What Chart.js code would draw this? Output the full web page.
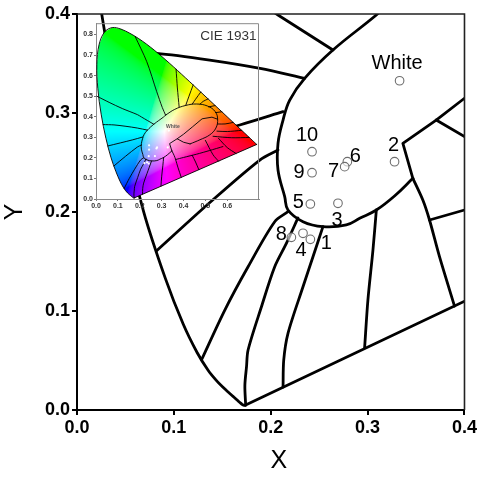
<!DOCTYPE html>
<html><head><meta charset="utf-8">
<script src="https://cdn.jsdelivr.net/npm/chart.js@4.4.1/dist/chart.umd.min.js"></script>
<style>
html,body{margin:0;padding:0;background:#fff;}
#wrap{position:relative;width:479px;height:477px;overflow:hidden;}
#main{position:absolute;left:0;top:0;width:479px;height:477px;}
#inset{position:absolute;left:80px;top:18px;width:185px;height:197px;}
</style></head><body>
<div id="wrap"><canvas id="main" width="479" height="477"></canvas><canvas id="inset" width="185" height="197"></canvas></div>
<script>
// ---------------- DATA ----------------
const mainTickLabels = ['0.0','0.1','0.2','0.3','0.4'];
const insetXTickLabels = ['0.0','0.1','0.2','0.3','0.4','0.5','0.6','0.7'];
const insetYTickLabels = ['0.0','0.1','0.2','0.3','0.4','0.5','0.6','0.7','0.8'];

const sampleLabels = ['1','2','3','4','5','6','7','8','9','10','White'];
const sampleX = [0.2409,0.3278,0.2694,0.2333,0.2409,0.2791,0.2763,0.2213,0.2426,0.2426,0.3330];
const sampleY = [0.1724,0.2508,0.2088,0.1785,0.2081,0.2508,0.2458,0.1744,0.2397,0.2609,0.3326];

// CIE 1931 spectral locus (380 nm -> 700 nm)
const locusX = [0.1741,0.1738,0.1733,0.1726,0.1714,0.1703,0.1689,0.1669,0.1644,0.1611,0.1566,0.1510,0.1440,0.1355,0.1241,0.1096,0.0913,0.0687,0.0454,0.0235,0.0082,0.0039,0.0139,0.0389,0.0743,0.1142,0.1547,0.1929,0.2296,0.2658,0.3016,0.3373,0.3731,0.4087,0.4441,0.4788,0.5125,0.5448,0.5752,0.6029,0.6270,0.6482,0.6658,0.6801,0.6915,0.7006,0.7079,0.7140,0.7190,0.7260,0.7300,0.7347];
const locusY = [0.0050,0.0049,0.0048,0.0048,0.0051,0.0058,0.0069,0.0086,0.0109,0.0138,0.0177,0.0227,0.0297,0.0399,0.0578,0.0868,0.1327,0.2007,0.2950,0.4127,0.5384,0.6548,0.7502,0.8120,0.8338,0.8262,0.8059,0.7816,0.7543,0.7243,0.6923,0.6589,0.6245,0.5896,0.5547,0.5202,0.4866,0.4544,0.4242,0.3965,0.3725,0.3514,0.3340,0.3197,0.3083,0.2993,0.2920,0.2859,0.2809,0.2740,0.2700,0.2653];
const purpleLine = [[0.1741,0.0050],[0.7347,0.2653]];

// colour-region boundaries (x, y)
const bndA = [[0.0822,0.1609],[0.1354,0.2081],[0.1887,0.2525],[0.2075,0.2626]];
const bndB = [[0.0545,0.258],[0.168,0.2879],[0.2127,0.3013]];
const bndC = [[0.033,0.362],[0.0822,0.3603],[0.137,0.3535],[0.189,0.3451],[0.235,0.335]];
const bndD = [[0.004,0.50],[0.06,0.47],[0.12,0.44],[0.19,0.41],[0.2075,0.399],[0.2642,0.3636]];
const whiteArc = [[0.318,0.408],[0.309,0.399],[0.2642,0.3636],[0.235,0.335],[0.2196,0.3131],[0.2127,0.2929],[0.2075,0.2694],[0.2075,0.2424],[0.2144,0.2155],[0.2178,0.2020],[0.2333,0.1902],[0.2540,0.1852],[0.2780,0.1869],[0.2918,0.1936],[0.3090,0.2020],[0.3278,0.2162],[0.3467,0.2340]];
const whiteNotch = [[0.3467,0.2340],[0.3364,0.2694],[0.3708,0.2929],[0.4,0.3149],[0.44,0.35],[0.485,0.39],[0.53,0.398],[0.556,0.388]];
const bndE = [[0.1286,0.0508],[0.1526,0.101],[0.1766,0.1447],[0.2041,0.1902],[0.2178,0.2003]];
const bndF = [[0.1741,0.005],[0.1733,0.025],[0.175,0.0438],[0.1766,0.0606],[0.1904,0.1043],[0.2041,0.1447],[0.216,0.168],[0.2281,0.194]];
const bndG = [[0.2127,0.0232],[0.2134,0.0505],[0.2178,0.0775],[0.2333,0.1245],[0.2436,0.1548],[0.2539,0.1852]];
const bndH = [[0.2969,0.0628],[0.3003,0.1111],[0.3055,0.1616],[0.309,0.202]];
const bndI = [[0.3897,0.1050],[0.3742,0.1549],[0.3639,0.1919],[0.357,0.2121],[0.3467,0.234]];
const bndJ = [[0.3639,0.1919],[0.4,0.2020],[0.46,0.218],[0.52,0.236],[0.58,0.255]];
const bndK = [[0.3708,0.2929],[0.4,0.2761],[0.43,0.268]];
// parts only visible in the inset
const ellipseTop = [[0.318,0.408],[0.36,0.436],[0.41,0.455],[0.46,0.462],[0.51,0.452],[0.545,0.425],[0.556,0.388],[0.548,0.345],[0.52,0.312],[0.475,0.288],[0.43,0.268]];
const greenG1 = [[0.179,0.790],[0.232,0.668],[0.277,0.524],[0.303,0.445],[0.318,0.408]];
const greenG2 = [[0.366,0.631],[0.372,0.54],[0.38,0.448]];
const yellowG3 = [[0.4441,0.5547],[0.425,0.50],[0.41,0.455]];
const yellowG4 = [[0.4788,0.5202],[0.455,0.485],[0.44,0.462]];
const yellowG5 = [[0.5125,0.4866],[0.49,0.475],[0.475,0.461]];
const orangeG6 = [[0.5448,0.4544],[0.515,0.448]];
const orangeR1 = [[0.5752,0.4242],[0.546,0.42]];
const redR2 = [[0.627,0.3725],[0.59,0.365],[0.555,0.365]];
const redR3 = [[0.6658,0.334],[0.60,0.328],[0.553,0.33]];
const redR4 = [[0.7006,0.2993],[0.62,0.298],[0.535,0.305]];
const pinkM1 = [[0.47,0.1425],[0.455,0.18],[0.44,0.212]];
const pinkM2 = [[0.56,0.184],[0.535,0.215],[0.50,0.285]];
const pinkM3 = [[0.64,0.2215],[0.60,0.25],[0.56,0.295]];

// ---------------- HELPERS ----------------
const FONT = "'Liberation Sans', Arial, Helvetica, sans-serif";
const pts = arr => arr.map(p => ({x:p[0], y:p[1]}));
const locusPts = locusX.map((x,i)=>({x, y:locusY[i]}));
const samplePts = sampleX.map((x,i)=>({x, y:sampleY[i]}));
function lineDS(arr, w, tension){
  return {data: Array.isArray(arr[0]) ? pts(arr) : arr, showLine:true, pointRadius:0, borderColor:'#000',
    borderWidth:w, tension:tension||0, fill:false, clip:0, order:2, borderJoinStyle:'round', borderCapStyle:'round'};
}
const mainLines = [
  [locusPts,0.35],[purpleLine,0],[bndA,0.3],[bndB,0.3],[bndC,0.3],[bndD,0.3],[whiteArc,0.4],[whiteNotch,0],
  [bndE,0.3],[bndF,0.3],[bndG,0.3],[bndH,0.3],[bndI,0.3],[bndJ,0.2],[bndK,0]
];
const insetOnly = [[ellipseTop,0.4],[greenG1,0.3],[greenG2,0.3],[yellowG3,0.3],[yellowG4,0.3],[yellowG5,0.3],[orangeG6,0],[orangeR1,0],[redR2,0.3],[redR3,0.3],[redR4,0.3],[pinkM1,0.3],[pinkM2,0.3],[pinkM3,0.3]];

// main-chart label placement (pixel offsets from the marker)
const labelOffsets = [[16,2],[-1,-17.5],[-1,16],[-2,16],[-12,-3.5],[8,-7],[-11,3],[-10,-5],[-13,-2],[-5,-18],[-2.5,-19]];

// ---------------- MAIN CHART ----------------
const mainPlugin = {
  id:'mainDeco',
  afterDatasetsDraw(chart){
    const {ctx, scales:{x,y}} = chart;
    ctx.save();
    ctx.fillStyle = '#000';
    ctx.font = '20px ' + FONT;
    ctx.textAlign = 'center';
    ctx.textBaseline = 'alphabetic';
    samplePts.forEach((p,i)=>{
      const px = x.getPixelForValue(p.x) + labelOffsets[i][0];
      const py = y.getPixelForValue(p.y) + labelOffsets[i][1];
      ctx.fillText(sampleLabels[i], px, py + 7.2);
    });
    ctx.restore();
  },
  afterDraw(chart){
    const {ctx, chartArea:a} = chart;
    ctx.save();
    ctx.strokeStyle = '#222';
    ctx.lineWidth = 1.6;
    ctx.beginPath();
    ctx.moveTo(a.left, a.top); ctx.lineTo(a.right, a.top); ctx.lineTo(a.right, a.bottom);
    ctx.stroke();
    ctx.fillStyle = '#000';
    ctx.font = '25px ' + FONT;
    ctx.textAlign = 'center'; ctx.textBaseline = 'middle';
    ctx.fillText('X', (a.left+a.right)/2 + 8, 461);
    ctx.translate(15, (a.top+a.bottom)/2);
    ctx.rotate(-Math.PI/2);
    ctx.fillText('Y', 0, 0);
    ctx.restore();
  }
};

const mainDatasets = [{
  data: samplePts, showLine:false, pointRadius:4.3, pointBorderWidth:1.1,
  pointBorderColor:'#6e6e6e', pointBackgroundColor:'rgba(255,255,255,0.6)', order:0, clip:false
}].concat(mainLines.map(l => lineDS(l[0], 2.8, l[1])));

function axisCfg(labels, fit){
  return {
    type:'linear', min:0, max:0.4,
    ticks:{stepSize:0.1, autoSkip:false, maxRotation:0, color:'#000', padding:2,
      font:{family:FONT, size:18, weight:'bold'},
      callback:(v,i)=>labels[i]},
    grid:{drawOnChartArea:false, drawTicks:true, tickLength:5, color:'#000', lineWidth:2},
    border:{display:true, color:'#000', width:2},
    afterFit: fit
  };
}
new Chart(document.getElementById('main'), {
  type:'scatter',
  data:{datasets: mainDatasets},
  options:{
    responsive:false, animation:false, devicePixelRatio:1, events:[],
    layout:{padding:{top:14, right:14, left:0, bottom:0}},
    plugins:{legend:{display:false}, tooltip:{enabled:false}},
    scales:{
      x: axisCfg(mainTickLabels, s=>{s.height = 67;}),
      y: axisCfg(mainTickLabels, s=>{s.width = 77;})
    }
  },
  plugins:[mainPlugin]
});

// ---------------- INSET ----------------
function xyToRgb(x, y){
  if (y < 1e-4) y = 1e-4;
  const X = x/y, Y = 1, Z = (1-x-y)/y;
  let r = 3.2406*X - 1.5372*Y - 0.4986*Z;
  let g = -0.9689*X + 1.8758*Y + 0.0415*Z;
  let b = 0.0557*X - 0.2040*Y + 1.0570*Z;
  r = Math.max(r,0); g = Math.max(g,0); b = Math.max(b,0);
  const m = Math.max(r,g,b) || 1;
  const gam = c => c <= 0.0031308 ? 12.92*c : 1.055*Math.pow(c,1/2.4) - 0.055;
  return [gam(r/m)*255, gam(g/m)*255, gam(b/m)*255];
}
const insetPlugin = {
  id:'gamut',
  beforeDatasetsDraw(chart){
    const {ctx, chartArea:a, scales:{x,y}} = chart;
    const w = Math.ceil(a.right - a.left), h = Math.ceil(a.bottom - a.top);
    const off = document.createElement('canvas'); off.width = w; off.height = h;
    const octx = off.getContext('2d');
    const img = octx.createImageData(w, h);
    for (let j=0;j<h;j++){
      const cy = y.getValueForPixel(a.top + j + 0.5);
      for (let i=0;i<w;i++){
        const cx = x.getValueForPixel(a.left + i + 0.5);
        const c = xyToRgb(cx, cy);
        const k = (j*w + i)*4;
        img.data[k]=c[0]; img.data[k+1]=c[1]; img.data[k+2]=c[2]; img.data[k+3]=255;
      }
    }
    octx.putImageData(img,0,0);
    ctx.save();
    ctx.beginPath();
    locusPts.forEach((p,i)=>{
      const px = x.getPixelForValue(p.x), py = y.getPixelForValue(p.y);
      if (i===0) ctx.moveTo(px,py); else ctx.lineTo(px,py);
    });
    ctx.closePath();
    ctx.clip();
    ctx.drawImage(off, a.left, a.top);
    ctx.restore();
  },
  afterDatasetsDraw(chart){
    const {ctx, scales:{x,y}} = chart;
    ctx.save();
    ctx.fillStyle = '#555';
    ctx.font = 'bold 5px ' + FONT;
    ctx.textAlign = 'center'; ctx.textBaseline = 'middle';
    const wi = sampleLabels.length - 1;
    ctx.fillText(sampleLabels[wi], x.getPixelForValue(sampleX[wi]) + 4, y.getPixelForValue(sampleY[wi]) - 4);
    ctx.restore();
  },
  afterDraw(chart){
    const {ctx, chartArea:a} = chart;
    ctx.save();
    ctx.strokeStyle = '#8a8a8a'; ctx.lineWidth = 1;
    ctx.beginPath();
    ctx.moveTo(a.left, a.top+0.5); ctx.lineTo(a.right-0.5, a.top+0.5); ctx.lineTo(a.right-0.5, a.bottom);
    ctx.stroke();
    ctx.fillStyle = '#333';
    ctx.font = '13.5px ' + FONT;
    ctx.textAlign = 'right'; ctx.textBaseline = 'alphabetic';
    ctx.fillText('CIE 1931', a.right - 2.5, a.top + 16.5);
    ctx.restore();
  }
};
const keepTenths = s => { s.ticks = s.ticks.filter(t => Math.abs(t.value*10 - Math.round(t.value*10)) < 1e-6); };
function insetAxis(max, labels, fit){
  return {
    type:'linear', min:0, max:max,
    afterBuildTicks: keepTenths,
    ticks:{stepSize:0.1, autoSkip:false, maxRotation:0, color:'#333', padding:1,
      font:{family:FONT, size:7, weight:'bold'}, callback:(v,i)=>labels[i]},
    grid:{drawOnChartArea:false, drawTicks:true, tickLength:2, color:'#777', lineWidth:1},
    border:{display:true, color:'#8a8a8a', width:1},
    afterFit: fit
  };
}
const insetDatasets = [{
  data: samplePts, showLine:false, pointRadius:1.1, pointBorderWidth:0,
  pointBackgroundColor:'#fff', order:0, clip:0
}].concat(mainLines.concat(insetOnly).map(l => lineDS(l[0], 0.9, l[1])));
new Chart(document.getElementById('inset'), {
  type:'scatter',
  data:{datasets: insetDatasets},
  options:{
    responsive:false, animation:false, devicePixelRatio:1, events:[],
    layout:{padding:{top:4, right:6, left:0, bottom:0}},
    plugins:{legend:{display:false}, tooltip:{enabled:false}},
    scales:{
      x: insetAxis(0.745, insetXTickLabels, s=>{s.height = 16;}),
      y: insetAxis(0.855, insetYTickLabels, s=>{s.width = 16;})
    }
  },
  plugins:[insetPlugin]
});
</script></body></html>
